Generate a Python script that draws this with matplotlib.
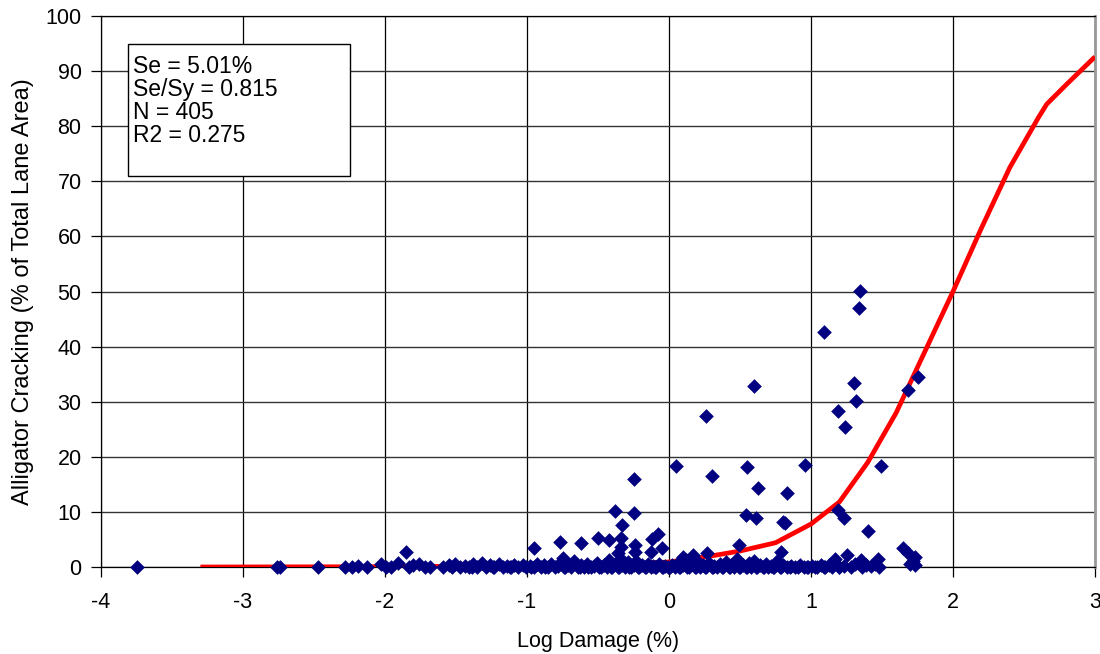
import matplotlib
matplotlib.use("Agg")
import matplotlib.pyplot as plt
from matplotlib.patches import Rectangle

plt.rcParams['font.family'] = ['Liberation Sans', 'DejaVu Sans']
plt.rcParams['axes.unicode_minus'] = False

# near-zero observations (log damage, cracking %)
base_x = [-3.75, -2.76, -2.74, -2.47, -2.28, -2.23, -2.19, -2.13, -2.03, -1.99,
          -1.96, -1.91, -1.83, -1.80, -1.76, -1.72, -1.68, -1.59, -1.55, -1.51,
          -1.47, -1.44, -1.41, -1.38, -1.35, -1.32, -1.29, -1.26, -1.23, -1.20,
          -1.17, -1.14, -1.12, -1.09, -1.06, -1.03, -1.01, -0.98, -0.95, -0.93,
          -0.90, -0.88, -0.85, -0.83, -0.80, -0.78, -0.76, -0.73, -0.71, -0.69,
          -0.67, -0.64, -0.62, -0.60, -0.58, -0.55, -0.53, -0.51, -0.48, -0.46,
          -0.44, -0.42, -0.40, -0.38, -0.36, -0.34, -0.33, -0.31, -0.29, -0.27,
          -0.25, -0.23, -0.21, -0.19, -0.17, -0.15, -0.13, -0.11, -0.09, -0.07,
          -0.05, -0.03, -0.01, 0.02, 0.04, 0.06, 0.08, 0.10, 0.12, 0.14,
          0.16, 0.18, 0.20, 0.22, 0.24, 0.26, 0.28, 0.30, 0.32, 0.34,
          0.36, 0.38, 0.40, 0.42, 0.44, 0.46, 0.48, 0.50, 0.52, 0.54,
          0.56, 0.58, 0.60, 0.62, 0.64, 0.66, 0.68, 0.70, 0.72, 0.74,
          0.76, 0.78, 0.80, 0.83, 0.86, 0.89, 0.92, 0.95, 0.98, 1.01,
          1.04, 1.07, 1.10, 1.13, 1.20, 1.23, 1.28, 1.31, 1.36, 1.42,
          1.45, 1.48, 1.73,
          -1.53, -1.39, -1.24, -1.11, -0.97, -0.87, -0.74, -0.63, -0.57, -0.49,
          -0.41, -0.35, -0.28, -0.22, -0.16, -0.10, -0.04, 0.01, 0.07, 0.13,
          0.19, 0.25, 0.31, 0.37, 0.43, 0.49, 0.55, 0.61, 0.67, 0.73,
          0.79, 0.85, 0.91, 0.97, 1.03, 1.09, 1.15]
base_y = [0, 0, 0, 0, 0, 0, 0.2, 0, 0.6, 0,
          0, 0.8, 0, 0.3, 0.6, 0, 0, 0, 0.4, 0.6,
          0, 0.2, 0, 0.6, 0, 0.8, 0, 0.3, 0, 0.5,
          0, 0.2, 0, 0.4, 0, 0.3, 0, 0.2, 0, 0.6,
          0, 0.3, 0, 0.5, 0, 0.2, 0.9, 0, 0.4, 0,
          1.0, 0, 0.3, 0, 0.6, 0, 0.2, 0.8, 0, 0.4,
          0, 1.2, 0, 0.5, 0, 1.5, 0.3, 0, 0.9, 0,
          0.4, 1.1, 0, 0.3, 0, 0.6, 0, 0.2, 0, 0.5,
          0, 0.2, 0, 0.4, 0, 0.8, 0, 0.3, 1.2, 0,
          0.5, 0, 1.0, 0, 0.3, 0, 0.7, 0, 0.2, 0,
          0.5, 0, 0.9, 0, 0.3, 0, 1.4, 0, 0.4, 0,
          0.7, 0, 1.1, 0, 0.3, 0, 0.6, 0, 0.2, 0,
          1.0, 0, 0.4, 0, 0.2, 0, 0.3, 0, 0, 0.2,
          0, 0.3, 0, 0.4, 0, 0.2, 0, 0.6, 0, 0.2,
          0.5, 0, 0.4,
          0, 0, 0, 0, 0, 0, 0, 0, 0, 0,
          0, 0, 0, 0, 0, 0, 0, 0, 0, 0,
          0, 0, 0, 0, 0, 0, 0, 0, 0, 0,
          0, 0, 0, 0, 0, 0, 0]

# observations with visible cracking
crack_x = [1.345, 1.34, 1.09, 0.60, 1.30, 1.32, 1.19, 1.24, 0.26, 1.75,
           1.68, 0.05, 0.30, 0.55, 0.96, 1.49, -0.25, 0.63, 0.83, 1.19,
           1.23, 0.54, 0.61, 0.80, 0.82, 1.40, -0.38, -0.25, -0.33, -0.50,
           -0.42, -0.62, -0.77, -0.95, -1.85, -0.12, -0.08, -0.34, -0.34, -0.24,
           -0.24, -0.13, -0.05, -0.36, -0.75, 0.27, 0.17, 0.10, 0.49, 0.79,
           1.25, 1.17, 1.65, 1.68, 1.73, 1.70, 1.72, 1.35, 1.47, 1.39,
           1.20]
crack_y = [50.1, 47.0, 42.6, 32.8, 33.4, 30.1, 28.3, 25.4, 27.4, 34.5,
           32.1, 18.3, 16.5, 18.1, 18.6, 18.3, 16.0, 14.3, 13.4, 10.3,
           8.9, 9.4, 8.9, 8.2, 7.9, 6.5, 10.2, 9.8, 7.7, 5.3,
           4.9, 4.3, 4.6, 3.4, 2.8, 5.1, 5.9, 5.3, 3.7, 4.0,
           2.8, 2.7, 3.4, 2.5, 1.6, 2.6, 2.1, 1.8, 4.0, 2.7,
           2.2, 1.5, 3.4, 2.6, 1.8, 0.5, 1.0, 1.3, 1.4, 0.4,
           0.0]

# fitted model
fit_x = [-3.3, -2.0, -1.0, -0.5, 0.0, 0.25, 0.5, 0.75, 1.0, 1.2,
         1.4, 1.6, 1.8, 2.0, 2.2, 2.4, 2.6, 2.66, 2.8, 3.0]
fit_y = [0, 0.05, 0.2, 0.4, 0.9, 1.8, 2.9, 4.4, 7.8, 11.8,
         19.0, 28.0, 39.0, 50.0, 61.5, 72.5, 81.5, 84.0, 87.6, 92.6]

stats_lines = ["Se = 5.01%", "Se/Sy = 0.815", "N = 405", "R2 = 0.275"]

fig = plt.figure(figsize=(11, 6.54), dpi=100)
ax = fig.add_axes([101 / 1100, 1 - 567 / 654, 994 / 1100, 551 / 654])

ax.plot(fit_x, fit_y, color="#ff0000", lw=3.4, zorder=3,
        solid_capstyle="butt", solid_joinstyle="round")
ax.scatter(base_x + crack_x, base_y + crack_y, marker="D", s=56,
           color="#000080", linewidths=0, zorder=4, clip_on=False)

ax.set_xlim(-4, 3)
ax.set_ylim(0, 100)
ax.set_xticks(range(-4, 4))
ax.set_yticks(range(0, 101, 10))
ax.grid(True, color="black", lw=0.9, zorder=0)
ax.yaxis.grid(True, color="#333333", lw=1.0)
ax.set_axisbelow(True)
for side in ["left", "bottom", "top"]:
    ax.spines[side].set_color("black")
    ax.spines[side].set_linewidth(0.9)
ax.spines["right"].set_color("#999999")
ax.spines["right"].set_linewidth(2)

ax.tick_params(axis="both", direction="out", length=7, width=0.9,
               labelsize=15.5, colors="black")
ax.tick_params(axis="x", pad=11)
ax.tick_params(axis="y", pad=7)

ax.set_xlabel("Log Damage (%)", fontsize=15.5, labelpad=13)
ax.set_ylabel("Alligator Cracking (% of Total Lane Area)", fontsize=17, labelpad=8)

box = Rectangle((0.027, 0.7096), 0.2235, 0.2394, transform=ax.transAxes,
                facecolor="white", edgecolor="black", lw=1, zorder=5)
ax.add_patch(box)
ax.text(0.032, 0.929, "\n".join(stats_lines), transform=ax.transAxes,
        fontsize=16.5, va="top", ha="left", linespacing=1.0, zorder=6)

fig.savefig("out.png", dpi=100)
